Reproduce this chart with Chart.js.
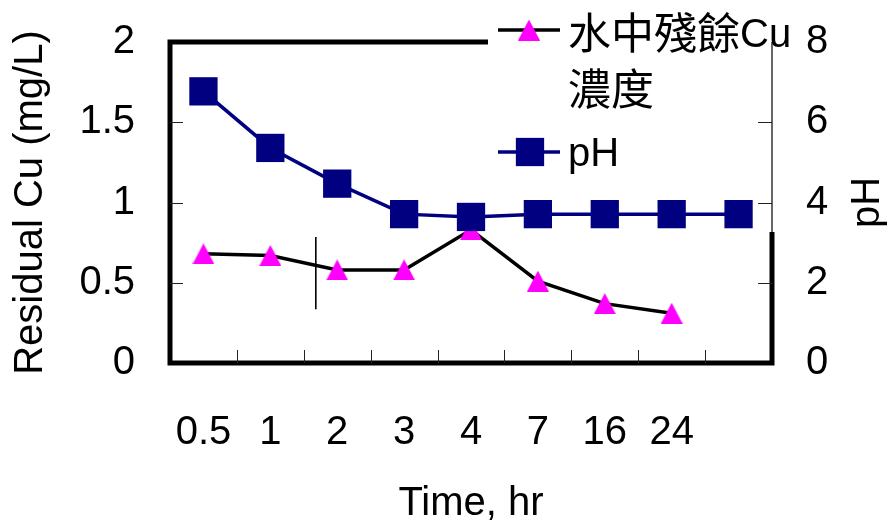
<!DOCTYPE html>
<html>
<head>
<meta charset="utf-8">
<script src="https://cdn.jsdelivr.net/npm/chart.js@4.4.1/dist/chart.umd.min.js"></script>
<style>
  html, body { margin: 0; padding: 0; background: #fff; }
  #wrap { width: 894px; height: 524px; }
</style>
</head>
<body>
<div id="wrap"><canvas id="c" width="894" height="524"></canvas></div>
<script>
// Sampling times (hr); the last slot is an unlabelled extra pH reading
const timeLabels = ['0.5', '1', '2', '3', '4', '7', '16', '24', ''];
// Residual Cu in water (mg/L)
const residualCu = [0.68, 0.67, 0.58, 0.58, 0.83, 0.51, 0.37, 0.31, null];
// pH of the solution
const phValues = [6.77, 5.36, 4.47, 3.71, 3.64, 3.71, 3.71, 3.71, 3.71];
// Axis tick values
const cuTicks = [0, 0.5, 1, 1.5, 2];
const phTicks = [0, 2, 4, 6, 8];
// Legend texts (one entry per line)
const cuLegend = ['水中殘餘Cu', '濃度'];
const phLegend = ['pH'];
// Hand-drawn marker line: category position and Cu range it spans
const guideLine = { at: 1.68, from: 0.335, to: 0.785 };

const LATIN = '"Liberation Sans", Arial, sans-serif';
const CJK = '"Noto Sans CJK TC", "Noto Sans CJK SC", sans-serif';
const axisFont = { family: LATIN, size: 40 };
const PLOT_TOP = 42;

function triangleMarker(w, h, color) {
  const c = document.createElement('canvas');
  c.width = w; c.height = h;
  const g = c.getContext('2d');
  g.fillStyle = color;
  g.beginPath();
  g.moveTo(w / 2, 0);
  g.lineTo(w, h);
  g.lineTo(0, h);
  g.closePath();
  g.fill();
  return c;
}
const triMarker = triangleMarker(22, 21, '#FF00FF');

function line(ctx, x1, y1, x2, y2) {
  ctx.beginPath(); ctx.moveTo(x1, y1); ctx.lineTo(x2, y2); ctx.stroke();
}

// Frame, inward tick marks, legend backing and the marker line
const framePlugin = {
  id: 'frame',
  beforeDatasetsDraw(chart) {
    const ctx = chart.ctx;
    const { left, right, top, bottom } = chart.chartArea;
    const xs = chart.scales.x, ys = chart.scales.y, ys1 = chart.scales.y1;
    ctx.save();
    ctx.strokeStyle = '#000';
    ctx.lineWidth = 5;
    ctx.lineJoin = 'miter';
    ctx.strokeRect(left, top, right - left, bottom - top);

    // white backing behind the legend
    ctx.fillStyle = '#fff';
    ctx.fillRect(488, 0, 312, 232);

    // thin secondary axis line
    ctx.lineWidth = 1.2;
    line(ctx, right, top, right, bottom);

    ctx.lineWidth = 1;
    ctx.strokeStyle = '#222';
    ys.ticks.forEach(t => {
      if (t.value <= ys.min || t.value >= ys.max) return;
      const y = Math.round(ys.getPixelForValue(t.value)) + 0.5;
      line(ctx, left, y, left + 13, y);
    });
    ys1.ticks.forEach(t => {
      if (t.value <= ys1.min || t.value >= ys1.max) return;
      const y = Math.round(ys1.getPixelForValue(t.value)) + 0.5;
      line(ctx, right - 14, y, right, y);
    });
    for (let i = 0; i < timeLabels.length - 1; i++) {
      const x = Math.round(xs.getPixelForValue(i + 0.5)) + 0.5;
      line(ctx, x, bottom, x, bottom - 13);
    }

    // marker line
    ctx.strokeStyle = '#000';
    ctx.lineWidth = 1.6;
    const gx = xs.getPixelForValue(guideLine.at);
    line(ctx, gx, ys.getPixelForValue(guideLine.to), gx, ys.getPixelForValue(guideLine.from));
    ctx.restore();
  },
  afterDraw(chart) {
    const ctx = chart.ctx;
    const ys1 = chart.scales.y1;
    ctx.save();
    // secondary axis title, rotated like the primary one
    ctx.fillStyle = '#000';
    ctx.font = '40px ' + LATIN;
    ctx.textAlign = 'center';
    ctx.textBaseline = 'middle';
    ctx.translate(868, (ys1.top + ys1.bottom) / 2);
    ctx.rotate(-Math.PI / 2);
    ctx.fillText('pH', 0, 0);
    ctx.restore();
  }
};

// Legend drawn at the top right, overlapping the frame
const legendPlugin = {
  id: 'cornerLegend',
  afterDraw(chart) {
    const ctx = chart.ctx;
    const rows = [
      { ds: chart.data.datasets[1], y: 30, baseline: 47 },
      { ds: chart.data.datasets[0], y: 152, baseline: 166 }
    ];
    ctx.save();
    rows.forEach(r => {
      const ds = r.ds;
      ctx.strokeStyle = ds.borderColor;
      ctx.lineWidth = ds.borderWidth;
      line(ctx, 498, r.y, 560, r.y);
      if (ds.pointStyle instanceof HTMLCanvasElement) {
        const img = ds.pointStyle;
        ctx.drawImage(img, 529 - img.width / 2, r.y - img.height / 2);
      } else {
        const s = ds.pointRadius * Math.SQRT1_2;
        ctx.fillStyle = ds.pointBackgroundColor;
        ctx.fillRect(530 - s, r.y - s, 2 * s, 2 * s);
      }
      ctx.fillStyle = '#000';
      ctx.textAlign = 'left';
      ctx.textBaseline = 'alphabetic';
      ds.label.forEach((text, i) => {
        let x = 568;
        const y = r.baseline + i * 56;
        // split into CJK and Latin runs
        text.match(/[\u3000-\u9fff]+|[^\u3000-\u9fff]+/g).forEach(run => {
          const isCJK = /[\u3000-\u9fff]/.test(run);
          ctx.font = isCJK ? '43px ' + CJK : '40px ' + LATIN;
          ctx.fillText(run, x, isCJK ? y + 2 : y);
          x += ctx.measureText(run).width;
        });
      });
    });
    ctx.restore();
  }
};

new Chart(document.getElementById('c'), {
  type: 'line',
  data: {
    labels: timeLabels,
    datasets: [
      {
        label: phLegend,
        data: phValues,
        yAxisID: 'y1',
        order: 0,
        borderColor: '#000080',
        borderWidth: 3.5,
        pointStyle: 'rect',
        pointRadius: 20,
        pointHoverRadius: 20,
        pointBackgroundColor: '#000080',
        pointBorderWidth: 0,
        tension: 0
      },
      {
        label: cuLegend,
        data: residualCu,
        yAxisID: 'y',
        order: 1,
        borderColor: '#000000',
        borderWidth: 3.5,
        pointStyle: triMarker,
        pointRadius: 11,
        pointBackgroundColor: '#FF00FF',
        pointBorderWidth: 0,
        tension: 0
      }
    ]
  },
  options: {
    responsive: false,
    animation: false,
    devicePixelRatio: 1,
    layout: { padding: 0 },
    plugins: { legend: { display: false }, tooltip: { enabled: false } },
    scales: {
      x: {
        type: 'category',
        offset: true,
        grid: { display: false, drawTicks: false },
        border: { display: false },
        ticks: { font: axisFont, color: '#000', padding: 46, maxRotation: 0, autoSkip: false },
        title: { display: true, text: 'Time, hr', font: axisFont, color: '#000', padding: { top: 0, bottom: -4 } },
        afterFit(s) { s.height = 161; }
      },
      y: {
        position: 'left',
        min: 0, max: 2,
        grid: { display: false, drawTicks: false },
        border: { display: false },
        afterBuildTicks(s) { s.ticks = cuTicks.map(v => ({ value: v })); },
        ticks: { font: axisFont, color: '#000', padding: 35, callback: v => String(v) },
        title: { display: true, text: 'Residual Cu (mg/L)', font: axisFont, color: '#000', padding: { top: 7, bottom: 0 } },
        afterFit(s) { s.width = 170; s.paddingTop = PLOT_TOP; s.paddingBottom = 0; }
      },
      y1: {
        position: 'right',
        min: 0, max: 8,
        grid: { display: false, drawTicks: false },
        border: { display: false },
        afterBuildTicks(s) { s.ticks = phTicks.map(v => ({ value: v })); },
        ticks: { font: axisFont, color: '#000', padding: 34, callback: v => String(v) },
        afterFit(s) { s.width = 122; s.paddingTop = PLOT_TOP; s.paddingBottom = 0; }
      }
    }
  },
  plugins: [framePlugin, legendPlugin]
});
</script>
</body>
</html>
